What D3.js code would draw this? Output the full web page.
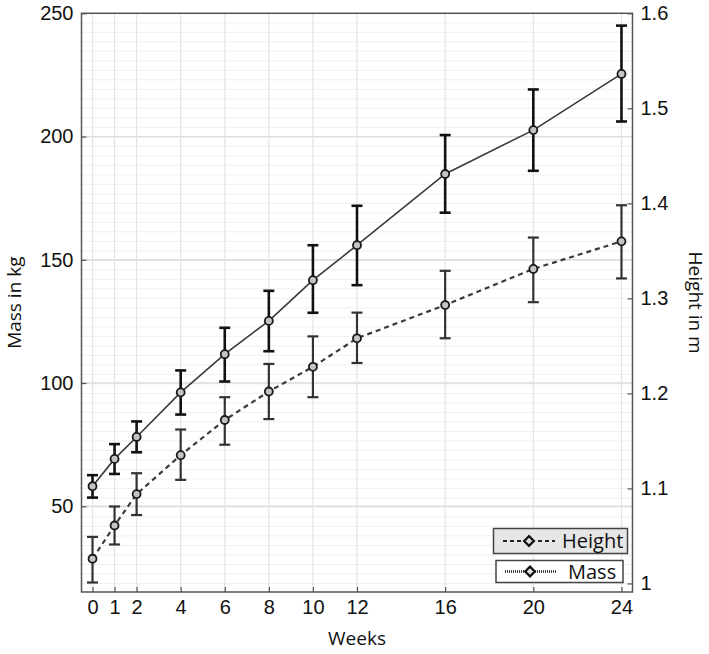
<!DOCTYPE html>
<html>
<head>
<meta charset="utf-8">
<script src="https://cdn.jsdelivr.net/npm/d3@7"></script>
<style>
  body { margin: 0; background: #fff; }
  svg { display: block; font-family: "Open Sans", "Noto Sans", sans-serif; }
</style>
</head>
<body>
<div id="chart"></div>
<script>
// values
const weeks = [0, 1, 2, 4, 6, 8, 10, 12, 16, 20, 24];
const massMean = [58.1, 69.2, 78.1, 96.2, 111.7, 125.2, 141.7, 155.9, 184.8, 202.6, 225.4];
const massLow = [53.5, 63.1, 71.9, 87.2, 100.6, 112.9, 128.5, 139.7, 169.1, 186.1, 206.1];
const massHigh = [62.6, 75.2, 84.4, 105.1, 122.4, 137.4, 155.9, 171.9, 200.6, 219.1, 245.0];
const heightMean = [1.026, 1.061, 1.094, 1.135, 1.172, 1.202, 1.228, 1.258, 1.293, 1.331, 1.360];
const heightLow = [1.001, 1.041, 1.072, 1.109, 1.146, 1.173, 1.196, 1.232, 1.258, 1.296, 1.321];
const heightHigh = [1.049, 1.081, 1.116, 1.162, 1.196, 1.231, 1.260, 1.285, 1.329, 1.364, 1.398];
const massTicks = [50, 100, 150, 200, 250];
const heightTicks = [1, 1.1, 1.2, 1.3, 1.4, 1.5, 1.6];
const legendNames = ["Height", "Mass"];

const size = { width: 709, height: 654 };
const margin = { left: 81.5, right: 76.5, top: 13.3, bottom: 62 };

const svg = d3.select("#chart").append("svg")
  .attr("width", size.width)
  .attr("height", size.height);

const x = d3.scaleLinear().domain([-0.5, 24.5])
  .range([margin.left, size.width - margin.right]);
const yL = d3.scaleLinear().domain([15.2, 250])
  .range([size.height - margin.bottom, margin.top]);
const yR = d3.scaleLinear().domain([0.991, 1.6])
  .range([size.height - margin.bottom, margin.top]);

const plotW = size.width - margin.left - margin.right;
const plotH = size.height - margin.top - margin.bottom;

// grid: fine lines every 0.01 m, heavier at the kg ticks, verticals at each week
const minor = d3.range(100, 161).map((d) => d / 100);
svg.append("g").selectAll("line").data(minor).join("line")
  .attr("x1", margin.left).attr("x2", margin.left + plotW)
  .attr("y1", (d) => yR(d)).attr("y2", (d) => yR(d))
  .attr("stroke", "#f0f0f0").attr("stroke-width", 1);
svg.append("g").selectAll("line").data(massTicks.slice(0, -1)).join("line")
  .attr("x1", margin.left).attr("x2", margin.left + plotW)
  .attr("y1", (d) => yL(d)).attr("y2", (d) => yL(d))
  .attr("stroke", "#dcdcdc").attr("stroke-width", 1.3);
svg.append("g").selectAll("line").data(weeks).join("line")
  .attr("x1", (d) => x(d)).attr("x2", (d) => x(d))
  .attr("y1", margin.top).attr("y2", margin.top + plotH)
  .attr("stroke", "#e4e4e4").attr("stroke-width", 1.2);

// axes
const axisStyle = (g) => {
  g.select(".domain").remove();
  g.selectAll(".tick line").attr("stroke", "#555").attr("stroke-width", 1.2);
  g.selectAll(".tick text").attr("fill", "#111").style("font-size", "20px");
};
svg.append("g")
  .attr("transform", `translate(0,${margin.top + plotH})`)
  .call(d3.axisBottom(x).tickValues(weeks).tickSize(-5).tickPadding(8))
  .call(axisStyle);
svg.append("g")
  .attr("transform", `translate(${margin.left},0)`)
  .call(d3.axisLeft(yL).tickValues(massTicks).tickSize(-5).tickPadding(8))
  .call(axisStyle);
svg.append("g")
  .attr("transform", `translate(${margin.left + plotW},0)`)
  .call(d3.axisRight(yR).tickValues(heightTicks).tickSize(-5).tickPadding(8)
    .tickFormat((d) => (d === 1 ? "1" : d3.format(".1f")(d))))
  .call(axisStyle);

svg.append("rect")
  .attr("x", margin.left).attr("y", margin.top)
  .attr("width", plotW).attr("height", plotH)
  .attr("fill", "none").attr("stroke", "#555").attr("stroke-width", 1.5);

// axis titles
svg.append("text").attr("x", x(12)).attr("y", 645)
  .attr("text-anchor", "middle").style("font-size", "19px").attr("fill", "#111")
  .text("Weeks");
svg.append("text")
  .attr("transform", `translate(21,${margin.top + plotH / 2}) rotate(-90)`)
  .attr("text-anchor", "middle").style("font-size", "19px").attr("fill", "#111")
  .text("Mass in kg");
svg.append("text")
  .attr("transform", `translate(689,${margin.top + plotH / 2}) rotate(90)`)
  .attr("text-anchor", "middle").style("font-size", "19px").attr("fill", "#111")
  .text("Height in m");

const massData = weeks.map((w, i) => ({ w, m: massMean[i], lo: massLow[i], hi: massHigh[i] }));
const heightData = weeks.map((w, i) => ({ w, m: heightMean[i], lo: heightLow[i], hi: heightHigh[i] }));

const drawSeries = (data, y, opt) => {
  const line = d3.line().x((d) => x(d.w)).y((d) => y(d.m));
  svg.append("path").datum(data)
    .attr("fill", "none").attr("stroke", opt.lineColor)
    .attr("stroke-width", opt.lineWidth)
    .attr("stroke-dasharray", opt.dash)
    .attr("d", line);

  const eb = svg.append("g").attr("stroke", opt.barColor)
    .attr("stroke-width", opt.barWidth).attr("fill", "none");
  eb.selectAll(".v").data(data).join("line")
    .attr("x1", (d) => x(d.w)).attr("x2", (d) => x(d.w))
    .attr("y1", (d) => y(d.lo)).attr("y2", (d) => y(d.hi));
  eb.selectAll(".t").data(data).join("line")
    .attr("x1", (d) => x(d.w) - 5.5).attr("x2", (d) => x(d.w) + 5.5)
    .attr("y1", (d) => y(d.hi)).attr("y2", (d) => y(d.hi));
  eb.selectAll(".b").data(data).join("line")
    .attr("x1", (d) => x(d.w) - 5.5).attr("x2", (d) => x(d.w) + 5.5)
    .attr("y1", (d) => y(d.lo)).attr("y2", (d) => y(d.lo));

  svg.append("g").selectAll("circle").data(data).join("circle")
    .attr("cx", (d) => x(d.w)).attr("cy", (d) => y(d.m)).attr("r", 4)
    .attr("fill", "#c4c4c4").attr("stroke", "#1a1a1a").attr("stroke-width", 1.8);
};

drawSeries(heightData, yR, { lineColor: "#3a3a3a", lineWidth: 2.2, dash: "5,4", barColor: "#333", barWidth: 2.2 });
drawSeries(massData, yL, { lineColor: "#3a3a3a", lineWidth: 1.6, dash: null, barColor: "#111", barWidth: 2.6 });

// legend
const legend = [
  { name: legendNames[0], box: [493.5, 528.5, 134, 25], fill: "#e6e6e6", dash: "4,3", lw: 2, lx: [503, 555], mx: 529, tx: 562 },
  { name: legendNames[1], box: [496, 560.5, 127, 22], fill: "#fff", dash: "1,1", lw: 2.6, lx: [505, 557], mx: 530, tx: 568 },
];
legend.forEach((l) => {
  const g = svg.append("g");
  const cy = l.box[1] + l.box[3] / 2;
  g.append("rect").attr("x", l.box[0]).attr("y", l.box[1])
    .attr("width", l.box[2]).attr("height", l.box[3])
    .attr("fill", l.fill).attr("stroke", "#444").attr("stroke-width", 1.5);
  g.append("line").attr("x1", l.lx[0]).attr("x2", l.lx[1])
    .attr("y1", cy).attr("y2", cy)
    .attr("stroke", "#222").attr("stroke-width", l.lw).attr("stroke-dasharray", l.dash);
  g.append("path")
    .attr("d", d3.symbol().type(d3.symbolDiamond2).size(60)())
    .attr("transform", `translate(${l.mx},${cy})`)
    .attr("fill", "#ddd").attr("stroke", "#111").attr("stroke-width", 2.2);
  g.append("text").attr("x", l.tx).attr("y", cy + 7)
    .style("font-size", "20px").attr("fill", "#111").text(l.name);
});
</script>
</body>
</html>
